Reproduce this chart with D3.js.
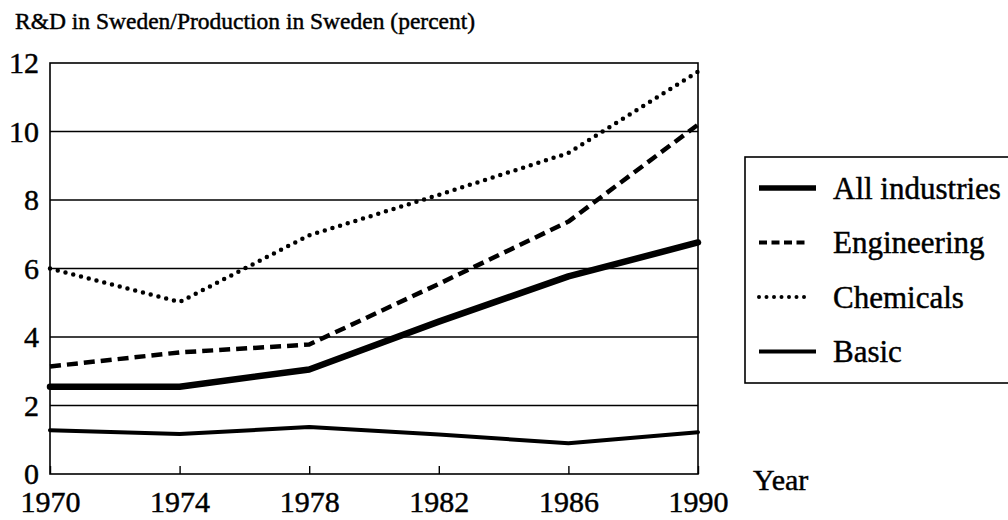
<!DOCTYPE html>
<html lang="en">
<head>
    <meta charset="UTF-8">
    <title>R&amp;D in Sweden</title>
</head>
<body style="margin:0; background:#fff;">
    <script src="https://unpkg.com/d3@7/dist/d3.min.js"></script>

    <svg class="container"></svg>

    <script>
// data
const years = [1970, 1974, 1978, 1982, 1986, 1990];
const allIndustries = [2.55, 2.55, 3.05, 4.45, 5.77, 6.76];
const engineering = [3.14, 3.55, 3.78, 5.55, 7.37, 10.2];
const chemicals = [6.0, 5.02, 6.97, 8.15, 9.37, 11.75];
const basic = [1.28, 1.17, 1.37, 1.15, 0.9, 1.22];
const yTicks = [0, 2, 4, 6, 8, 10, 12];
const xTicks = [1970, 1974, 1978, 1982, 1986, 1990];

const seriesNames = ['All industries', 'Engineering', 'Chemicals', 'Basic'];
const seriesValues = [allIndustries, engineering, chemicals, basic];

// how each line is drawn
const styles = {
    'All industries': { width: 6.5, dash: null, cap: 'round' },
    'Engineering': { width: 4.5, dash: '11,6', cap: 'butt' },
    'Chemicals': { width: 4.5, dash: '0,8', cap: 'round' },
    'Basic': { width: 4, dash: null, cap: 'round' }
};

const serif = '"Liberation Serif", "Times New Roman", serif';

let width = 1008, height = 520;
let margin = { left: 50, top: 63, right: 310, bottom: 46 };

let svg = d3.select('svg.container')
    .attr('width', width)
    .attr('height', height);

let x = d3.scaleLinear().domain([1970, 1990]).range([margin.left, width - margin.right]);
let y = d3.scaleLinear().domain([0, 12]).range([height - margin.bottom, margin.top]);

// small helper so every label gets the same serif look (inline style, the css rule didn't stick)
function serifText(sel, size) {
    return sel
        .style('font-family', serif)
        .style('font-size', size + 'px')
        .style('fill', '#000')
        .style('stroke', '#000')
        .style('stroke-width', 0.45);
}

// title
svg.append('text')
    .attr('x', 15)
    .attr('y', 29)
    .call(serifText, 23.5)
    .text('R&D in Sweden/Production in Sweden (percent)');

// gridlines
svg.append('g')
    .selectAll('line')
    .data(yTicks.slice(1, -1))
    .join('line')
    .attr('x1', x(1970)).attr('x2', x(1990))
    .attr('y1', d => y(d)).attr('y2', d => y(d))
    .attr('stroke', '#000')
    .attr('stroke-width', 1.4);

// x axis - ticks point up into the plot, labels underneath
let xAxis = d3.axisBottom(x)
    .tickValues(xTicks)
    .tickFormat(d3.format('d'))
    .tickSizeInner(-8)
    .tickSizeOuter(0)
    .tickPadding(17);
let gx = svg.append('g')
    .attr('transform', `translate(0,${y(0)})`)
    .call(xAxis);
gx.select('.domain').remove();
gx.selectAll('.tick line').attr('stroke', '#000').attr('stroke-width', 1.4);
gx.selectAll('.tick text').call(serifText, 30);

// y axis - labels only, the frame does the rest
let yAxis = d3.axisLeft(y)
    .tickValues(yTicks)
    .tickSize(0)
    .tickPadding(11);
let gy = svg.append('g')
    .attr('transform', `translate(${x(1970)},0)`)
    .call(yAxis);
gy.select('.domain').remove();
gy.selectAll('.tick text').call(serifText, 30);

// frame round the plot
svg.append('rect')
    .attr('x', x(1970)).attr('y', y(12))
    .attr('width', x(1990) - x(1970))
    .attr('height', y(0) - y(12))
    .attr('fill', 'none')
    .attr('stroke', '#000')
    .attr('stroke-width', 1.6);

// the lines
let line = d3.line()
    .x((d, i) => x(years[i]))
    .y(d => y(d));

svg.append('g')
    .selectAll('path')
    .data(seriesNames)
    .join('path')
    .attr('d', (name, i) => line(seriesValues[i]))
    .attr('fill', 'none')
    .attr('stroke', '#000')
    .attr('stroke-width', d => styles[d].width)
    .attr('stroke-dasharray', d => styles[d].dash)
    .attr('stroke-linecap', d => styles[d].cap)
    .attr('stroke-linejoin', 'round');

// "Year" label
svg.append('text')
    .attr('x', 753)
    .attr('y', 490)
    .call(serifText, 30)
    .text('Year');

// legend
let legend = svg.append('g').attr('transform', 'translate(745,157)');
legend.append('rect')
    .attr('width', 270)
    .attr('height', 226)
    .attr('fill', 'none')
    .attr('stroke', '#000')
    .attr('stroke-width', 1.6);

let rows = legend.selectAll('g.row')
    .data(seriesNames)
    .join('g')
    .attr('class', 'row')
    .attr('transform', (d, i) => `translate(0,${31 + i * 54.5})`);

rows.append('line')
    .attr('x1', 14)
    .attr('x2', d => d == 'Engineering' || d == 'Chemicals' ? 63 : 71)
    .attr('stroke', '#000')
    .attr('stroke-width', d => d == 'All industries' ? 5.5 : 4)
    .attr('stroke-dasharray', d => d == 'Engineering' ? '8,4.5' : d == 'Chemicals' ? '0,7.5' : null)
    .attr('stroke-linecap', d => d == 'Chemicals' ? 'round' : 'butt');

rows.append('text')
    .attr('x', 88)
    .attr('dy', '0.35em')
    .call(serifText, 31)
    .text(d => d);
    </script>
</body>
</html>
